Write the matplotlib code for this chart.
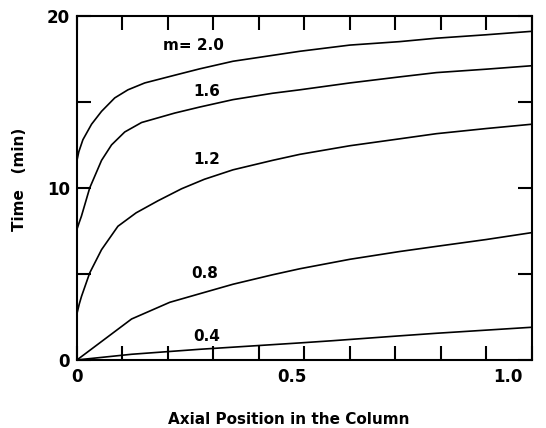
import matplotlib
matplotlib.use("Agg")
import matplotlib.pyplot as plt
from matplotlib.transforms import ScaledTranslation
import numpy as np

# breakthrough time vs. axial position, one curve per m value
x_m20 = [0, 0.004, 0.013, 0.032, 0.054, 0.083, 0.112, 0.149, 0.215, 0.27, 0.343,
         0.49, 0.6, 0.709, 0.79, 0.9, 1.0]
t_m20 = [11.6, 12.1, 12.8, 13.7, 14.45, 15.23, 15.7, 16.1, 16.55, 16.92, 17.36,
         17.94, 18.3, 18.5, 18.7, 18.9, 19.1]

x_m16 = [0, 0.005, 0.0097, 0.028, 0.054, 0.076, 0.105, 0.142, 0.215, 0.27, 0.343,
         0.43, 0.49, 0.6, 0.709, 0.79, 0.9, 1.0]
t_m16 = [7.6, 8.0, 8.35, 10.0, 11.6, 12.5, 13.25, 13.8, 14.35, 14.7, 15.13,
         15.5, 15.7, 16.1, 16.45, 16.7, 16.9, 17.1]

x_m12 = [0, 0.005, 0.01, 0.028, 0.054, 0.09, 0.13, 0.178, 0.23, 0.28, 0.343,
         0.43, 0.49, 0.6, 0.709, 0.79, 0.9, 1.0]
t_m12 = [2.7, 3.25, 3.7, 5.06, 6.41, 7.77, 8.55, 9.25, 9.95, 10.5, 11.05,
         11.6, 11.95, 12.45, 12.85, 13.15, 13.45, 13.7]

x_m08 = [0, 0.12, 0.204, 0.27, 0.343, 0.43, 0.49, 0.6, 0.709, 0.79, 0.9, 1.0]
t_m08 = [0, 2.38, 3.35, 3.85, 4.4, 4.95, 5.3, 5.85, 6.3, 6.6, 7.0, 7.4]

x_m04 = [0, 0.12, 0.27, 0.49, 0.563, 0.709, 0.79, 1.0]
t_m04 = [0, 0.33, 0.62, 0.99, 1.12, 1.4, 1.55, 1.9]

curve_labels = ["m= 2.0", "1.6", "1.2", "0.8", "0.4"]
label_x = [0.255, 0.285, 0.285, 0.28, 0.285]
label_y = [18.25, 15.6, 11.65, 5.0, 1.35]

xtick_vals = [0, 0.5, 1.0]
xtick_text = ["0", "0.5", "1.0"]
ytick_vals = [0, 10, 20]
ytick_text = ["0", "10", "20"]

plt.rcParams['font.family'] = ['DejaVu Sans']
plt.rcParams['font.weight'] = 'bold'

fig = plt.figure(figsize=(5.46, 4.28), dpi=100)
ax = fig.add_axes([0.141, 0.159, 0.833, 0.804])

series = [(x_m20, t_m20), (x_m16, t_m16), (x_m12, t_m12), (x_m08, t_m08), (x_m04, t_m04)]
for xs, ts in series:
    ax.plot(xs, ts, color='black', lw=1.2, solid_joinstyle='round')

for lab, lx, ly in zip(curve_labels, label_x, label_y):
    ax.text(lx, ly, lab, fontsize=11, ha='center', va='center')

ax.set_xlim(0, 1.0)
ax.set_ylim(0, 20)
ax.set_xticks(np.arange(0, 1.01, 0.1), minor=True)
ax.set_yticks([0, 5, 10, 15, 20], minor=True)
ax.set_xticks(xtick_vals)
ax.set_xticklabels(xtick_text)
ax.set_yticks(ytick_vals)
ax.set_yticklabels(ytick_text)

ax.tick_params(which='both', direction='in', length=10, width=1.5,
               top=True, right=True, labelsize=12)
ax.tick_params(axis='x', pad=6)
ax.tick_params(axis='y', pad=5)
for sp in ax.spines.values():
    sp.set_linewidth(1.5)

# the printed 0.5 and 1.0 labels sit a little left of their ticks
shifts = [0, -0.12, -0.24]
for lab, dx in zip(ax.get_xticklabels(), shifts):
    lab.set_transform(lab.get_transform() + ScaledTranslation(dx, 0, fig.dpi_scale_trans))

fig.text(20 / 546, 1 - 179 / 428, "Time   (min)", rotation=90, fontsize=11,
         ha='center', va='center')
fig.text(289 / 546, 1 - 420 / 428, "Axial Position in the Column", fontsize=11,
         ha='center', va='center')

fig.savefig("out.png", dpi=100)
